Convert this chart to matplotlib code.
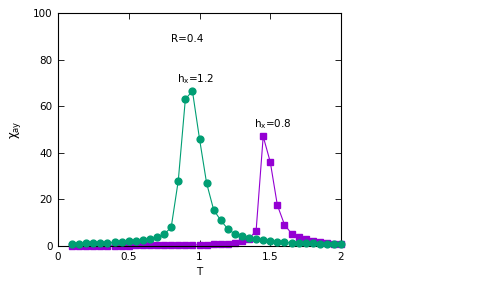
import matplotlib
matplotlib.use("Agg")
import matplotlib.pyplot as plt
import numpy as np

T = [round(0.1 + 0.05 * i, 2) for i in range(39)]

chi_h12 = [0.9, 1.0, 1.1, 1.2, 1.3, 1.4, 1.6, 1.8, 2.0, 2.3, 2.7, 3.2, 3.8, 5.0, 8.0,
           28.0, 63.0, 66.5, 46.0, 27.0, 15.5, 11.0, 7.3, 5.1, 4.4, 3.6, 2.9, 2.4, 2.0,
           1.7, 1.5, 1.4, 1.3, 1.2, 1.1, 1.0, 0.9, 0.8, 0.8]

chi_h08 = [0.0, 0.0, 0.05, 0.05, 0.1, 0.1, 0.1, 0.15, 0.15, 0.2, 0.2, 0.25, 0.25, 0.3,
           0.3, 0.35, 0.4, 0.45, 0.5, 0.6, 0.7, 0.85, 1.0, 1.4, 2.0, 3.0, 6.6, 47.0,
           36.0, 17.5, 9.2, 5.3, 3.7, 2.9, 2.3, 1.7, 1.3, 1.0, 0.8]

green = "#009e73"
purple = "#9400d3"

fig = plt.figure(figsize=(4.79, 2.87), dpi=100)
ax = fig.add_axes([0.121, 0.143, 0.591, 0.812])

ax.plot(T, chi_h12, "-o", color=green, lw=0.8, ms=4.9, clip_on=False, zorder=3)
ax.plot(T, chi_h08, "-s", color=purple, lw=0.8, ms=4.7, clip_on=False, zorder=2)

ax.set_xlim(0, 2)
ax.set_ylim(0, 100)
ax.set_xticks([0, 0.5, 1, 1.5, 2])
ax.set_xticklabels(["0", "0.5", "1", "1.5", "2"])
ax.set_yticks([0, 20, 40, 60, 80, 100])
ax.tick_params(direction="in", top=True, right=True, labelsize=7.5,
               length=4, width=0.6, pad=4)
for s in ax.spines.values():
    s.set_linewidth(0.8)

ax.set_xlabel("T", fontsize=7.5, labelpad=4)
ax.set_ylabel("χ$_\\mathregular{ay}$", fontsize=8.5, labelpad=7)

ax.text(0.91, 89, "R=0.4", fontsize=7.5, ha="center", va="center")
ax.text(0.97, 71.5, r"h$_\mathregular{x}$=1.2", fontsize=7.5, ha="center", va="center")
ax.text(1.52, 52.5, r"h$_\mathregular{x}$=0.8", fontsize=7.5, ha="center", va="center")

fig.savefig("out.png", dpi=100)
